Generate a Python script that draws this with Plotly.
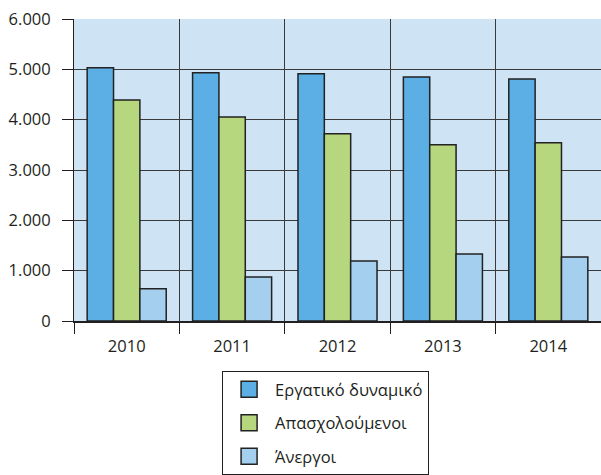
import plotly.graph_objects as go

years = ["2010", "2011", "2012", "2013", "2014"]
labor_force = [5030, 4930, 4910, 4850, 4810]
employed = [4390, 4055, 3720, 3500, 3540]
unemployed = [640, 875, 1190, 1330, 1270]

names = ["Εργατικό δυναμικό", "Απασχολούμενοι", "Άνεργοι"]
colors = ["#5BAFE4", "#B6D77E", "#A4CFEE"]
series = [labor_force, employed, unemployed]

FONT = "Open Sans"
FS = 16.5
fig = go.Figure()
for name, col, vals in zip(names, colors, series):
    fig.add_trace(go.Bar(
        x=years, y=vals, name=name, showlegend=False,
        marker=dict(color=col, line=dict(color="#222222", width=1.5)),
    ))
# legend-only entries (larger swatches)
for name, col in zip(names, colors):
    fig.add_trace(go.Scatter(
        x=[None], y=[None], mode="markers", name=name, legendgroup=name,
        marker=dict(symbol="square", size=16, color=col,
                    line=dict(color="#222222", width=1.5)),
    ))

fig.update_layout(
    width=601, height=475,
    margin=dict(l=74, r=0, t=19, b=154),
    paper_bgcolor="white", plot_bgcolor="#CEE3F4",
    barmode="group", bargap=0.25, bargroupgap=0,
    separators=",.",
    font=dict(family=FONT, size=FS, color="#231F20"),
    legend=dict(
        x=0.281, xanchor="left", y=-0.166, yanchor="top",
        bordercolor="#231F20", borderwidth=1, bgcolor="white",
        font=dict(family=FONT, size=FS, color="#231F20"),
        traceorder="grouped", tracegroupgap=9, itemsizing="trace",
        itemwidth=42, entrywidth=200, entrywidthmode="pixels",
    ),
    xaxis=dict(
        type="category", tickson="boundaries", showgrid=True,
        gridcolor="#3a3a3a", gridwidth=1, automargin=False,
        ticks="outside", ticklen=11, tickcolor="#231F20", tickwidth=1,
        showline=True, linecolor="#231F20", linewidth=2,
        tickfont=dict(size=FS), ticklabelstandoff=9,
    ),
    yaxis=dict(
        range=[0, 6000], dtick=1000, tickformat=",d", automargin=False,
        showgrid=True, gridcolor="#3a3a3a", gridwidth=1,
        ticks="outside", ticklen=11, tickcolor="#231F20", tickwidth=1,
        showline=True, linecolor="#231F20", linewidth=1,
        zeroline=False, tickfont=dict(size=FS), ticklabelstandoff=8,
    ),
)

fig.write_html("out.html", post_script="document.body.style.margin='0px';",
               config={"displayModeBar": False})
